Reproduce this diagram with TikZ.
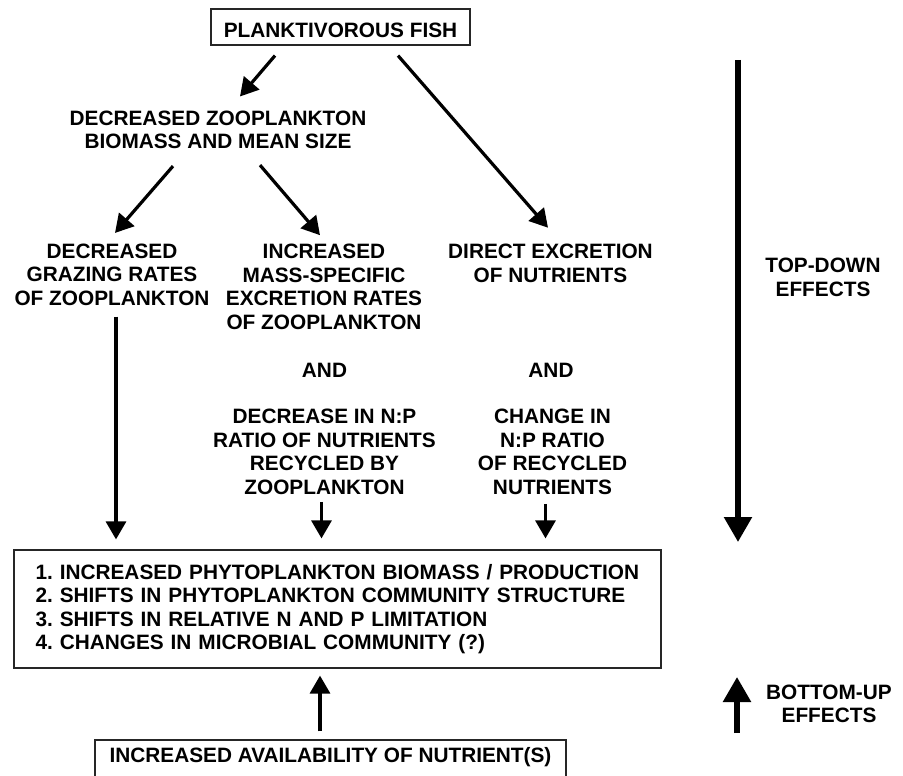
\documentclass[tikz,border=0pt]{standalone}
\usepackage{fontspec}
\newfontfamily\figfont{Liberation Sans}
\usepackage{tikz}
\usetikzlibrary{arrows.meta}
\usetikzlibrary{positioning}
\tikzset{>={Triangle[length=18pt,width=20pt]}}

\begin{document}
\begin{tikzpicture}[x=1pt, y=-1pt, txt/.style={align=center, inner sep=0pt, font=\figfont\bfseries\fontsize{20.8}{23.5}\selectfont\frenchspacing}, box/.style={txt, draw=black!85, line width=1.2pt}, arr/.style={->, line width=3.2pt}, bigarr/.style={-{Triangle[length=25pt,width=27pt]}, line width=5.5pt}]
		\useasboundingbox (0,0) rectangle (903,776);
		\node[box, minimum width=259pt, text height=29pt, text depth=7pt] (fish) at (340.5,27) {PLANKTIVOROUS FISH};
		\node[txt] (zoop) at (218,129.8) {DECREASED ZOOPLANKTON\\BIOMASS AND MEAN SIZE};
		\node[txt] (graze) at (112,274.5) {DECREASED\\GRAZING RATES\\OF ZOOPLANKTON};
		\node[txt] (mass) at (324,287) {INCREASED\\MASS-SPECIFIC\\EXCRETION RATES\\OF ZOOPLANKTON};
		\node[txt] (direct) at (550.5,263.5) {DIRECT EXCRETION\\OF NUTRIENTS};
		\node[txt] (and1) at (324.5,370) {AND};
		\node[txt] (and2) at (551,370) {AND};
		\node[txt] (ratio) at (324.5,452) {DECREASE IN N:P\\RATIO OF NUTRIENTS\\RECYCLED BY\\ZOOPLANKTON};
		\node[txt] (change) at (552.5,452) {CHANGE IN\\N:P RATIO\\OF RECYCLED\\NUTRIENTS};
		\node[box, align=left, text width=604pt, inner xsep=21.5pt, minimum height=118pt] (effects) at (337.5,609) {1. INCREASED PHYTOPLANKTON BIOMASS / PRODUCTION\\2. SHIFTS IN PHYTOPLANKTON COMMUNITY STRUCTURE\\3. SHIFTS IN RELATIVE N AND P LIMITATION\\4. CHANGES IN MICROBIAL COMMUNITY (?)};
		\node[box, minimum width=471pt, text height=22.5pt, text depth=15.5pt] (nutr) at (330.5,759) {INCREASED AVAILABILITY OF NUTRIENT(S)};
		\node[txt] (topdown) at (823,277.5) {TOP-DOWN\\EFFECTS};
		\node[txt] (bottomup) at (829,704) {BOTTOM-UP\\EFFECTS};

		\coordinate (tdtop) at (738,60);
		\coordinate (tdbot) at (738,542);
		\coordinate (bubot) at (737,733);
		\coordinate (butop) at (737,677);

		\draw[arr] ([shift={(-65.5,10)}]fish.south) -- ([shift={(22,-14)}]zoop.north);
		\draw[arr] ([shift={(57.5,10)}]fish.south) -- ([shift={(-2.5,-16.5)}]direct.north);
		\draw[arr] ([shift={(-45,17)}]zoop.south) -- ([shift={(3,-10.5)}]graze.north);
		\draw[arr] ([shift={(42,16)}]zoop.south) -- ([shift={(-4,-9)}]mass.north);
		\draw[arr] ([shift={(4,11)}]graze.south) -- ([shift={(-221.5,-10)}]effects.north);
		\draw[arr] ([shift={(-3,7)}]ratio.south) -- ([shift={(-16,-11)}]effects.north);
		\draw[arr] ([shift={(-7,9)}]change.south) -- ([shift={(208,-11)}]effects.north);
		\draw[arr] ([shift={(-10.5,-8)}]nutr.north) -- ([shift={(-17.5,7)}]effects.south);
		\draw[bigarr] (tdtop) -- (tdbot);
		\draw[bigarr] (bubot) -- (butop);
	\end{tikzpicture}
\end{document}
